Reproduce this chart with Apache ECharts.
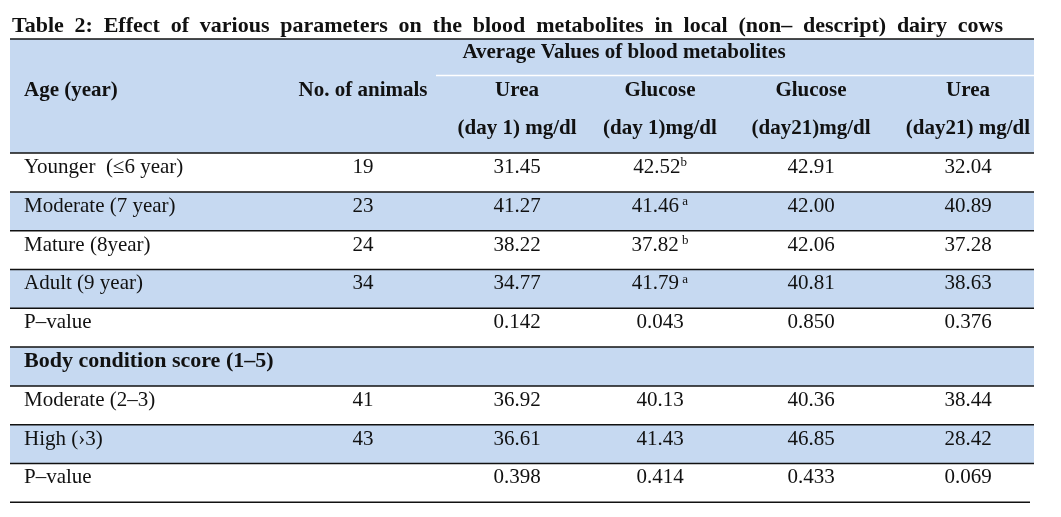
<!DOCTYPE html>
<html>
<head>
<meta charset="utf-8">
<script src="https://cdn.jsdelivr.net/npm/echarts@6/dist/echarts.min.js"></script>
<style>
  html, body { margin: 0; padding: 0; background: #fff; }
  #chart { width: 1061px; height: 517px; }
</style>
</head>
<body>
<div id="chart"></div>
<script>
// Текст таблицы
const titleWords = ["Table", "2:", "Effect", "of", "various", "parameters", "on", "the", "blood",
  "metabolites", "in", "local", "(non\u2013", "descript)", "dairy", "cows"];
const groupHeader = "Average Values of blood metabolites";
const columnHeaders = [
  ["Age (year)"],
  ["No. of animals"],
  ["Urea", "(day 1) mg/dl"],
  ["Glucose", "(day 1)mg/dl"],
  ["Glucose", "(day21)mg/dl"],
  ["Urea", "(day21) mg/dl"]
];

// Строки и значения
const rowLabels = [
  "Younger  (\u22646 year)", "Moderate (7 year)", "Mature (8year)", "Adult (9 year)", "P\u2013value",
  "Body condition score (1\u20135)", "Moderate (2\u20133)", "High (\u203a3)", "P\u2013value"
];
const animals      = [19, 23, 24, 34, null, null, 41, 43, null];
const ureaDay1     = [31.45, 41.27, 38.22, 34.77, 0.142, null, 36.92, 36.61, 0.398];
const glucoseDay1  = [42.52, 41.46, 37.82, 41.79, 0.043, null, 40.13, 41.43, 0.414];
const glucoseMarks = ["b", " a", " b", " a", "", "", "", "", ""];
const glucoseDay21 = [42.91, 42.00, 42.06, 40.81, 0.850, null, 40.36, 46.85, 0.433];
const ureaDay21    = [32.04, 40.89, 37.28, 38.63, 0.376, null, 38.44, 28.42, 0.069];
const pValueRows   = [4, 8];
const sectionRows  = [5];
const shadedRows   = [1, 3, 5, 7];

// Оформление
const serif = "Liberation Serif";
const shade = "#c6d9f1";
const ink = "#111";
const tableLeft = 10, tableRight = 1034;
const colX = [24, 363, 517, 660, 811, 968];
const headerTop = -2.94;

const fmt = (v, i) => v == null ? "" : (pValueRows.includes(i) ? v.toFixed(3) : v.toFixed(2));

const chart = echarts.init(document.getElementById("chart"));

function renderHeader(params, api) {
  const tl = api.coord([tableLeft, headerTop]);
  const br = api.coord([tableRight, 0]);
  const children = [
    { type: "rect", shape: { x: tl[0], y: tl[1], width: br[0] - tl[0], height: br[1] - tl[1] }, style: { fill: shade } },
    { type: "line", shape: { x1: tl[0], y1: tl[1], x2: br[0], y2: tl[1] }, style: { stroke: ink, lineWidth: 1.5 } }
  ];
  const sepL = api.coord([436, -2]);
  children.push({ type: "line", shape: { x1: sepL[0], y1: sepL[1], x2: br[0], y2: sepL[1] }, style: { stroke: "#fff", lineWidth: 1.5 } });
  const g = api.coord([624, headerTop + 0.34]);
  children.push({ type: "text", x: g[0], y: g[1], style: { text: groupHeader, font: "bold 21px " + serif, fill: ink, align: "center", verticalAlign: "middle" } });
  columnHeaders.forEach((lines, c) => {
    lines.forEach((t, k) => {
      const yv = k === 0 ? -1.6 : -0.64;
      const p = api.coord([colX[c], yv]);
      children.push({ type: "text", x: p[0], y: p[1], style: { text: t, font: "bold 21px " + serif, fill: ink, align: c === 0 ? "left" : "center", verticalAlign: "middle" } });
    });
  });
  return { type: "group", children };
}

function renderRow(params, api) {
  const i = api.value(0);
  const tl = api.coord([tableLeft, i]);
  const br = api.coord([tableRight, i + 1]);
  const children = [];
  if (shadedRows.includes(i)) {
    children.push({ type: "rect", shape: { x: tl[0], y: tl[1], width: br[0] - tl[0], height: br[1] - tl[1] }, style: { fill: shade } });
  }
  children.push({ type: "line", shape: { x1: tl[0], y1: tl[1], x2: br[0], y2: tl[1] }, style: { stroke: ink, lineWidth: 1.5 } });
  if (i === rowLabels.length - 1) {
    const end = api.coord([tableRight - 4, i + 1]);
    children.push({ type: "line", shape: { x1: tl[0], y1: br[1], x2: end[0], y2: br[1] }, style: { stroke: ink, lineWidth: 1.5 } });
  }
  const ty = i + 0.37;
  const bold = sectionRows.includes(i);
  const lp = api.coord([colX[0], ty]);
  children.push({ type: "text", x: lp[0], y: lp[1], style: { text: rowLabels[i], font: (bold ? "bold 22px " : "21px ") + serif, fill: ink, align: "left", verticalAlign: "middle" } });
  const cells = [
    animals[i] == null ? "" : String(animals[i]),
    fmt(ureaDay1[i], i),
    fmt(glucoseDay1[i], i),
    fmt(glucoseDay21[i], i),
    fmt(ureaDay21[i], i)
  ];
  cells.forEach((t, k) => {
    if (!t) return;
    const p = api.coord([colX[k + 1], ty]);
    const mark = k === 2 ? glucoseMarks[i] : "";
    const style = mark
      ? { text: "{n|" + t + "}{s|" + mark + "}", rich: {
            n: { font: "21px " + serif, fill: ink, lineHeight: 22 },
            s: { font: "13px " + serif, fill: ink, lineHeight: 12, verticalAlign: "top" } },
          align: "center", verticalAlign: "middle" }
      : { text: t, font: "21px " + serif, fill: ink, align: "center", verticalAlign: "middle" };
    children.push({ type: "text", x: p[0], y: p[1], style });
  });
  return { type: "group", children };
}

const option = {
  animation: false,
  title: {
    text: titleWords.join("{g| }"), left: 7, top: 10,
    textStyle: { fontFamily: serif, fontWeight: "bold", fontSize: 22, color: ink,
      rich: { g: { width: 10.8, fontFamily: serif, fontSize: 22 } } }
  },
  grid: { left: 0, right: 0, top: 39, bottom: 14.7 },
  xAxis: { type: "value", min: 0, max: 1061, show: false },
  yAxis: { type: "value", min: headerTop, max: rowLabels.length, inverse: true, show: false },
  series: [
    { type: "custom", renderItem: renderHeader, data: [[0]], silent: true },
    { type: "custom", renderItem: renderRow, data: rowLabels.map((_, i) => [i]), silent: true }
  ]
};

chart.setOption(option);
</script>
</body>
</html>
